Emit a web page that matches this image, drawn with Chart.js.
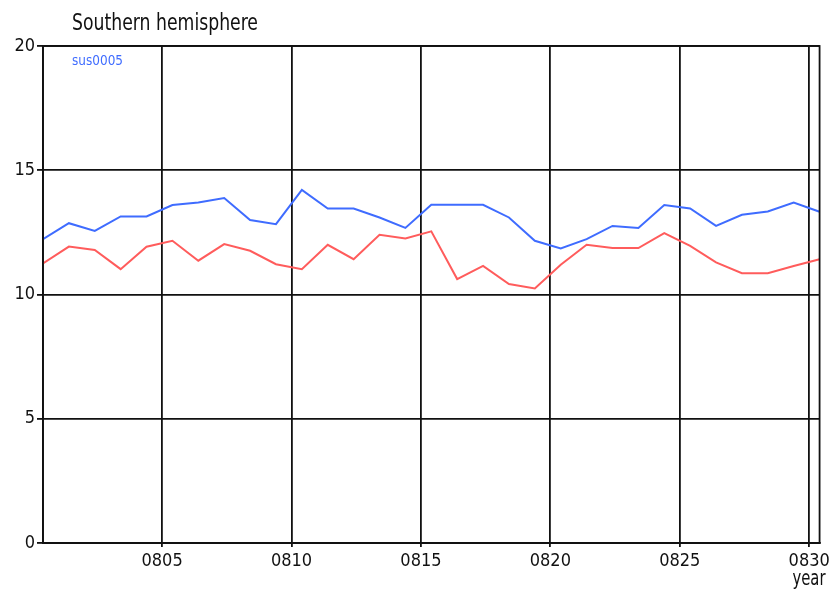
<!DOCTYPE html>
<html>
<head>
<meta charset="utf-8">
<title>Southern hemisphere</title>
<script src="https://cdn.jsdelivr.net/npm/chart.js@4/dist/chart.umd.min.js"></script>
<style>
  html, body { margin: 0; padding: 0; background: #fff; }
  #wrap { width: 834px; height: 596px; }
</style>
</head>
<body>
<div id="wrap"><canvas id="c" width="834" height="596"></canvas></div>
<script>
// Daily values, August (first sample taken at day 0.4)
const startDay = 0.4;
const sus0005 = [12.23, 12.87, 12.56, 13.14, 13.14, 13.60, 13.70, 13.88, 13.00, 12.83,
                 14.21, 13.46, 13.46, 13.10, 12.68, 13.61, 13.61, 13.61, 13.10, 12.16,
                 11.85, 12.23, 12.76, 12.68, 13.60, 13.46, 12.76, 13.21, 13.34, 13.70,
                 13.33];
const secondSeries = [11.25, 11.93, 11.79, 11.02, 11.92, 12.16, 11.36, 12.03, 11.76, 11.22,
                      11.02, 12.00, 11.42, 12.40, 12.25, 12.54, 10.62, 11.15, 10.42, 10.24,
                      11.20, 12.00, 11.87, 11.87, 12.47, 11.96, 11.29, 10.86, 10.86, 11.15,
                      11.42];
const xTickDays = [5, 10, 15, 20, 25, 30];
const xTickLabels = ['0805', '0810', '0815', '0820', '0825', '0830'];
const yTicks = [0, 5, 10, 15, 20];

const FONT = "'DejaVu Sans Condensed', 'Liberation Sans', sans-serif";
const BLUE = '#3f6cff';
const RED = '#ff5c5c';

const toPoints = arr => arr.map((v, i) => ({ x: startDay + i, y: v }));

// Draws text squeezed horizontally to a given width (narrow plotter-style lettering)
function narrowText(ctx, text, x, y, size, width, align) {
  ctx.save();
  ctx.font = size + 'px ' + FONT;
  const w = ctx.measureText(text).width;
  const k = Math.min(1, width / w);
  const left = align === 'center' ? x - (w * k) / 2 : x;
  ctx.translate(left, y);
  ctx.scale(k, 1);
  ctx.textAlign = 'left';
  ctx.textBaseline = 'alphabetic';
  ctx.fillText(text, 0, 0);
  ctx.restore();
}

// Frame, title, legend text and axis name
const decorations = {
  id: 'decorations',
  afterDraw(chart) {
    const { ctx, chartArea: a } = chart;
    ctx.save();
    ctx.strokeStyle = '#111';
    ctx.lineWidth = 1.8;
    ctx.strokeRect(a.left, a.top, a.right - a.left, a.bottom - a.top);

    ctx.fillStyle = '#111';
    narrowText(ctx, 'Southern hemisphere', 72, 30, 23, 186, 'left');
    ctx.fillStyle = BLUE;
    narrowText(ctx, 'sus0005', 72, 65, 14, 51, 'left');
    ctx.fillStyle = '#111';
    narrowText(ctx, 'year', 809, 585, 21, 33, 'center');
    ctx.restore();
  }
};

new Chart(document.getElementById('c'), {
  type: 'line',
  data: {
    datasets: [
      { label: 'sus0005', data: toPoints(sus0005), borderColor: BLUE, borderWidth: 2 },
      { label: 'series 2', data: toPoints(secondSeries), borderColor: RED, borderWidth: 2 }
    ]
  },
  options: {
    responsive: false,
    animation: false,
    events: [],
    layout: { padding: { left: 0, right: 13, top: 46, bottom: 0 } },
    elements: { point: { radius: 0 }, line: { tension: 0, fill: false } },
    plugins: { legend: { display: false }, tooltip: { enabled: false }, title: { display: false } },
    scales: {
      x: {
        type: 'linear',
        min: startDay,
        max: startDay + sus0005.length - 1,
        afterBuildTicks(scale) { scale.ticks = xTickDays.map(v => ({ value: v })); },
        afterFit(scale) { scale.height = 53; },
        ticks: {
          color: '#111',
          font: { family: FONT, size: 18 },
          padding: 4,
          maxRotation: 0,
          autoSkip: false,
          callback: v => xTickLabels[xTickDays.indexOf(v)]
        },
        grid: { color: '#111', lineWidth: 1.8, tickLength: 4, drawOnChartArea: true },
        border: { color: '#111', width: 1.8 }
      },
      y: {
        min: 0,
        max: 20,
        afterBuildTicks(scale) { scale.ticks = yTicks.map(v => ({ value: v })); },
        afterFit(scale) { scale.width = 43; },
        ticks: {
          color: '#111',
          font: { family: FONT, size: 18 },
          padding: 2,
          callback: v => String(v)
        },
        grid: { color: '#111', lineWidth: 1.8, tickLength: 6 },
        border: { color: '#111', width: 1.8 }
      }
    }
  },
  plugins: [decorations]
});
</script>
</body>
</html>
